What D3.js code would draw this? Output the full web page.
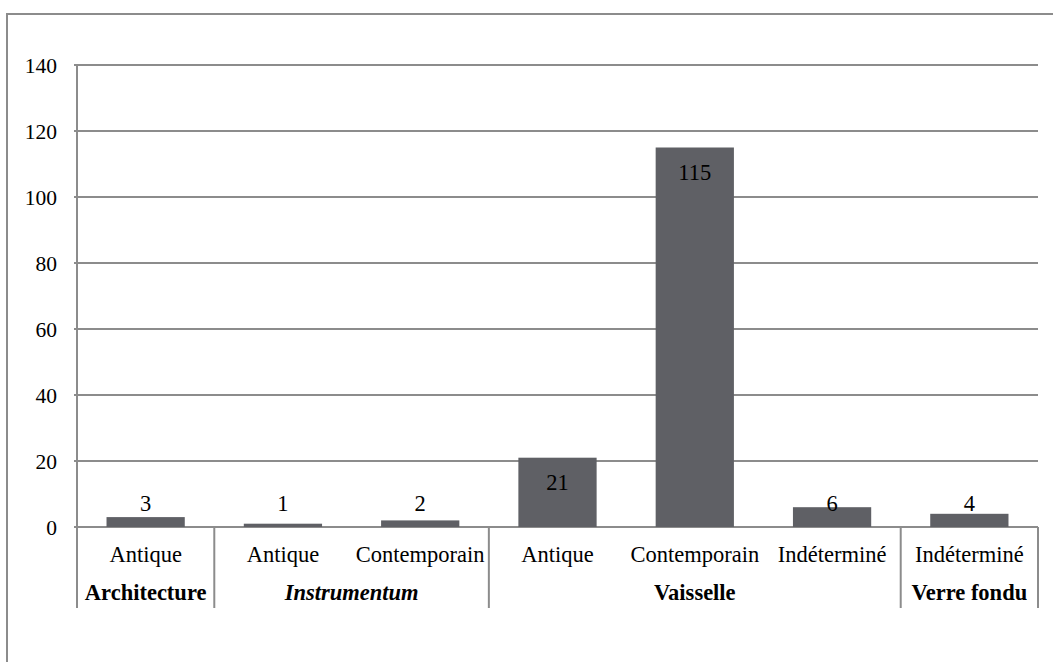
<!DOCTYPE html>
<html><head><meta charset="utf-8">
<script src="https://cdn.jsdelivr.net/npm/d3@7"></script>
<style>
html,body{margin:0;padding:0;background:#fff;}
svg{display:block;}
</style></head>
<body>
<svg id="chart" width="1053" height="662"></svg>
<script>
const groups = ["Architecture","Instrumentum","Instrumentum","Vaisselle","Vaisselle","Vaisselle","Verre fondu"];
const categories = ["Antique","Antique","Contemporain","Antique","Contemporain","Indéterminé","Indéterminé"];
const values = [3,1,2,21,115,6,4];
const groupNames = ["Architecture","Instrumentum","Vaisselle","Verre fondu"];
const groupItalic = [false,true,false,false];
const yTicks = [0,20,40,60,80,100,120,140];

(function(){
const svg = d3.select("#chart")
  .attr("font-family","'Liberation Serif', 'Times New Roman', Tinos, serif");
const mLeft = 77, mRight = 1038, mTop = 65, mBottom = 527, axisBottom = 608;
const gridColor = "#8c8c8c";
const fsTick = 21.5, fs = 22.5;

// outer frame (left & top visible)
svg.append("path").attr("d", "M7,670 L7,14 L1060,14").attr("fill","none").attr("stroke",gridColor).attr("stroke-width",2);

const idx = d3.range(values.length);
const x = d3.scaleBand().domain(idx).range([mLeft,mRight]).paddingInner(0.43).paddingOuter(0.215);
const xc = d3.scaleBand().domain(idx).range([mLeft,mRight]);
const y = d3.scaleLinear().domain([0,140]).range([mBottom,mTop]);

// gridlines (with small outward ticks)
svg.append("g").selectAll("line").data(yTicks).join("line")
  .attr("x1",mLeft-3).attr("x2",mRight).attr("y1",d=>y(d)).attr("y2",d=>y(d))
  .attr("stroke",gridColor).attr("stroke-width",2);

// left axis line
svg.append("line").attr("x1",mLeft).attr("x2",mLeft).attr("y1",mTop).attr("y2",axisBottom)
  .attr("stroke",gridColor).attr("stroke-width",2);

// y tick labels
svg.append("g").selectAll("text").data(yTicks).join("text")
  .attr("x",57).attr("y",d=>y(d)).attr("dy","0.35em").attr("text-anchor","end")
  .attr("font-size",fsTick).text(d=>d);

// bars
svg.append("g").selectAll("rect").data(idx).join("rect")
  .attr("x",i=>x(i)).attr("width",x.bandwidth())
  .attr("y",i=>y(values[i])).attr("height",i=>y(0)-y(values[i]))
  .attr("fill","#5f6065");

// value labels
svg.append("g").selectAll("text").data(idx).join("text")
  .attr("x",i=>x(i)+x.bandwidth()/2)
  .attr("y",i=> values[i] > 10 ? y(values[i]) + 32 : y(0) - 16)
  .attr("text-anchor","middle").attr("font-size",fs).text(i=>values[i]);

// category labels
svg.append("g").selectAll("text").data(idx).join("text")
  .attr("x",i=>xc(i)+xc.bandwidth()/2).attr("y",562)
  .attr("text-anchor","middle").attr("font-size",fs).text(i=>categories[i]);

// group spans
const spans = groupNames.map((g,gi)=>{
  const members = idx.filter(i=>groups[i]===g);
  return {name:g, italic:groupItalic[gi], x0:xc(members[0]), x1:xc(members[members.length-1])+xc.bandwidth()};
});
const seps = spans.map(s=>s.x1);
svg.append("g").selectAll("line").data(seps).join("line")
  .attr("x1",d=>d).attr("x2",d=>d).attr("y1",mBottom).attr("y2",axisBottom)
  .attr("stroke",gridColor).attr("stroke-width",2);

svg.append("g").selectAll("text").data(spans).join("text")
  .attr("x",s=>(s.x0+s.x1)/2).attr("y",600).attr("text-anchor","middle")
  .attr("font-size",fs).attr("font-weight","bold")
  .attr("font-style",s=>s.italic?"italic":"normal").text(s=>s.name);
})();
</script>
</body></html>
